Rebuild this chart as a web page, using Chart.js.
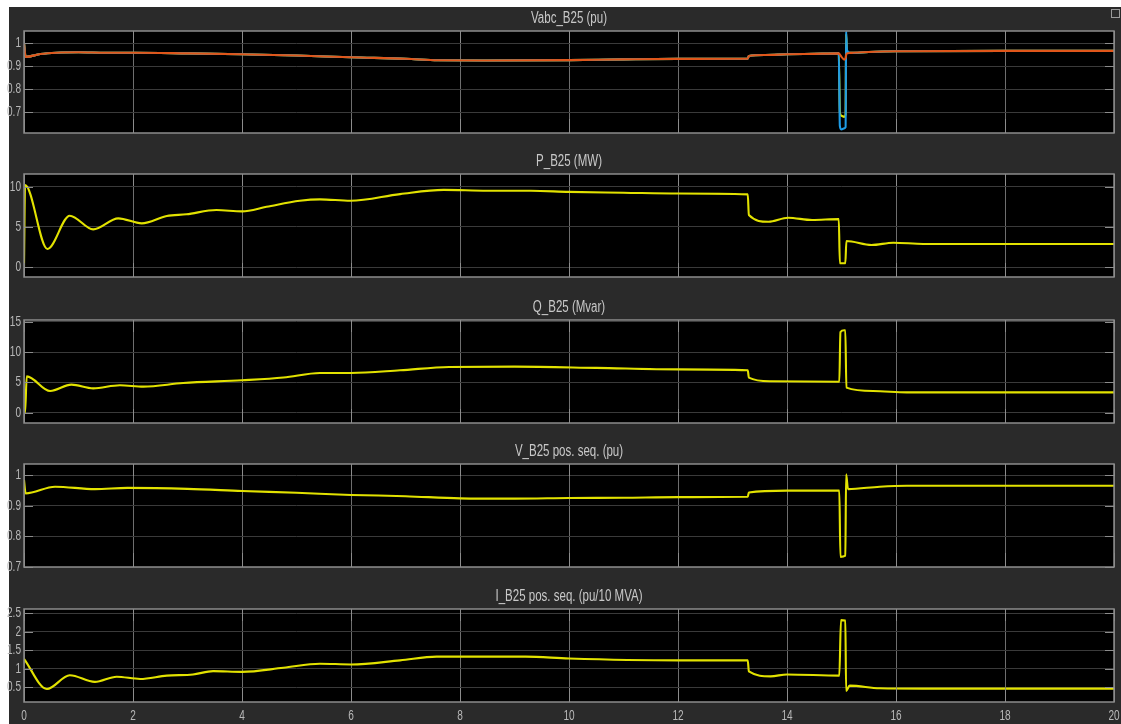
<!DOCTYPE html>
<html>
<head>
<meta charset="utf-8">
<script src="https://cdn.jsdelivr.net/npm/chart.js@4.4.1/dist/chart.umd.min.js"></script>
<style>
	body{margin:0;background:#fff;width:1121px;height:724px;overflow:hidden;position:relative}
	#fig{position:absolute;left:9px;top:7px;right:0;bottom:0;background:#2a2a2a}
	.pnl{position:absolute;left:0;width:1121px}
	#dock{position:absolute;left:1111px;top:9px;width:7px;height:7px;border:1px solid #9a9a9a}
</style>
</head>
<body>
<div id="fig"></div>
<div id="dock"></div>
<div class="pnl" style="top:5px;height:136px"><canvas id="cVabc"></canvas></div>
<div class="pnl" style="top:148px;height:137px"><canvas id="cP"></canvas></div>
<div class="pnl" style="top:294px;height:137px"><canvas id="cQ"></canvas></div>
<div class="pnl" style="top:438px;height:137px"><canvas id="cV"></canvas></div>
<div class="pnl" style="top:583px;height:141px"><canvas id="cI"></canvas></div>
<script>
// --- data (time in s) ---
const xTicks = [0, 2, 4, 6, 8, 10, 12, 14, 16, 18, 20];

const vabcT = [0, 0.03, 0.3, 0.6, 1.0, 1.5, 2, 3, 4, 5, 6, 7, 7.6, 8.5, 10, 11, 12, 13.28, 13.3, 13.6, 14, 14.5, 14.95, 14.97, 15.0, 15.05, 15.075, 15.085, 15.1, 15.15, 15.5, 16, 18, 20];
const vbVal = [1.0, 0.94, 0.952, 0.958, 0.96, 0.958, 0.958, 0.955, 0.951, 0.946, 0.938, 0.932, 0.925, 0.924, 0.926, 0.929, 0.931, 0.932, 0.944, 0.948, 0.951, 0.953, 0.955, 0.95, 0.94, 0.928, 0.935, 0.948, 0.955, 0.957, 0.961, 0.964, 0.966, 0.966];
const vaVal = [1.0, 0.94, 0.952, 0.958, 0.96, 0.958, 0.958, 0.955, 0.951, 0.946, 0.938, 0.932, 0.925, 0.924, 0.926, 0.929, 0.931, 0.932, 0.944, 0.948, 0.951, 0.953, 0.955, 0.64, 0.625, 0.63, 0.635, 1.05, 0.97, 0.957, 0.961, 0.964, 0.966, 0.966];
const vcVal = [1.0, 0.94, 0.952, 0.958, 0.96, 0.958, 0.958, 0.955, 0.951, 0.946, 0.938, 0.932, 0.925, 0.924, 0.926, 0.929, 0.931, 0.932, 0.944, 0.948, 0.951, 0.953, 0.955, 0.70, 0.685, 0.68, 0.69, 1.04, 0.96, 0.957, 0.961, 0.964, 0.966, 0.966];
const vabcTicks = [0.7, 0.8, 0.9, 1];

const pT = [0, 0.02, 0.43, 0.84, 1.27, 1.73, 2.16, 2.62, 2.98, 3.53, 4.0, 4.45, 5.06, 5.43, 5.99, 6.9, 7.7, 8.5, 9.3, 10, 11, 12, 13.28, 13.3, 13.66, 14.02, 14.46, 14.95, 14.97, 15.07, 15.09, 15.55, 15.95, 16.5, 18, 20];
const pVal = [0, 10.2, 2.27, 6.4, 4.7, 6.07, 5.45, 6.36, 6.57, 7.1, 6.94, 7.5, 8.25, 8.43, 8.25, 9.08, 9.6, 9.5, 9.5, 9.35, 9.25, 9.15, 9.04, 6.48, 5.65, 6.15, 5.86, 5.98, 0.5, 0.5, 3.26, 2.76, 3.05, 2.9, 2.9, 2.9];
const pTicks = [0, 5, 10];

const qT = [0, 0.02, 0.05, 0.48, 0.87, 1.27, 1.76, 2.19, 2.92, 4.0, 4.76, 5.43, 6.0, 6.9, 7.8, 9, 10.5, 12, 13.28, 13.3, 13.7, 14.96, 14.98, 15.05, 15.07, 15.09, 15.58, 16.2, 18, 20];
const qVal = [0, 0, 6.0, 3.58, 4.63, 4.02, 4.52, 4.3, 4.9, 5.35, 5.8, 6.56, 6.56, 7.0, 7.55, 7.6, 7.4, 7.15, 7.0, 5.8, 5.18, 5.1, 13.3, 13.6, 13.6, 4.14, 3.58, 3.36, 3.35, 3.35];
const qTicks = [0, 5, 10, 15];

const vT = [0, 0.03, 0.57, 1.3, 1.9, 3, 4, 5, 6, 7, 8, 9, 10, 11, 12, 13.28, 13.3, 14, 14.96, 14.98, 15.07, 15.085, 15.12, 15.7, 16.2, 18, 20];
const vVal = [0.984, 0.94, 0.962, 0.954, 0.958, 0.955, 0.948, 0.942, 0.935, 0.931, 0.924, 0.923, 0.925, 0.926, 0.928, 0.929, 0.943, 0.949, 0.949, 0.733, 0.737, 1.002, 0.954, 0.962, 0.965, 0.965, 0.965];
const vTicks = [0.7, 0.8, 0.9, 1];

const iT = [0, 0.42, 0.84, 1.3, 1.7, 2.13, 2.62, 3.1, 3.47, 4.0, 4.76, 5.43, 6.0, 6.9, 7.57, 9.2, 10, 12, 13.28, 13.3, 13.7, 14.0, 14.96, 14.99, 15.07, 15.085, 15.15, 15.7, 16.5, 18, 20];
const iVal = [1.27, 0.46, 0.83, 0.65, 0.79, 0.73, 0.82, 0.85, 0.94, 0.92, 1.03, 1.14, 1.12, 1.23, 1.33, 1.33, 1.28, 1.23, 1.23, 0.93, 0.80, 0.85, 0.82, 2.31, 2.3, 0.41, 0.55, 0.48, 0.47, 0.47, 0.47];
const iTicks = [0.5, 1, 1.5, 2, 2.5];

(function(){
	const FONT = "'Liberation Sans', Arial, sans-serif";
	const YELLOW = '#e2e200';
	const SQUEEZE = 0.72;   // scope text is tall and narrow

	function pts(t, v){ return t.map((x, i) => ({ x: x, y: v[i] })); }
	function line(t, v, color){ return { data: pts(t, v), borderColor: color, borderWidth: 2.1, pointRadius: 0, fill: false }; }

	function narrowText(ctx, text, x, y, align){
		ctx.save();
		ctx.translate(x, y);
		ctx.scale(SQUEEZE, 1);
		ctx.textAlign = align;
		ctx.textBaseline = 'middle';
		ctx.fillText(text, 0, 0);
		ctx.restore();
	}

	// --- black plot area, inner ticks, frame, labels and title, scope style ---
	const scopePlugin = {
		id: 'scopeTitle',
		beforeDraw(chart){
			const a = chart.chartArea, ctx = chart.ctx;
			ctx.save();
			ctx.fillStyle = '#000';
			ctx.fillRect(a.left, a.top, a.right - a.left, a.bottom - a.top);
			ctx.restore();
		},
		afterDraw(chart, args, opts){
			const a = chart.chartArea, ctx = chart.ctx, sx = chart.scales.x, sy = chart.scales.y;
			ctx.save();
			ctx.strokeStyle = '#8c8c8c';
			ctx.lineWidth = 1;
			sy.ticks.forEach(t => {
				const y = Math.round(sy.getPixelForValue(t.value)) + 0.5;
				ctx.beginPath();
				ctx.moveTo(a.left, y); ctx.lineTo(a.left + 9, y);
				ctx.moveTo(a.right - 9, y); ctx.lineTo(a.right, y);
				ctx.stroke();
			});
			sx.ticks.forEach(t => {
				const x = Math.round(sx.getPixelForValue(t.value)) + 0.5;
				ctx.beginPath();
				ctx.moveTo(x, a.top); ctx.lineTo(x, a.top + 12);
				ctx.moveTo(x, a.bottom - 14); ctx.lineTo(x, a.bottom);
				ctx.stroke();
			});
			ctx.lineWidth = 1.5;
			ctx.strokeRect(a.left, a.top, a.right - a.left, a.bottom - a.top);

			// tick labels
			ctx.fillStyle = '#b8b8b8';
			ctx.font = '14px ' + FONT;
			sy.ticks.forEach(t => narrowText(ctx, String(t.value), a.left - 3, sy.getPixelForValue(t.value), 'right'));
			if (opts.showX) {
				sx.ticks.forEach(t => narrowText(ctx, String(t.value), sx.getPixelForValue(t.value), a.bottom + 14, 'center'));
			}

			// title
			ctx.fillStyle = '#c8c8c8';
			ctx.font = '16px ' + FONT;
			narrowText(ctx, opts.text, (a.left + a.right) / 2, a.top - 12, 'center');
			ctx.restore();
		}
	};

	function makePanel(id, title, datasets, yMin, yMax, yTicks, showX){
		const canvas = document.getElementById(id);
		return new Chart(canvas, {
			type: 'line',
			data: { datasets: datasets },
			options: {
				responsive: true,
				maintainAspectRatio: false,
				animation: false,
				events: [],
				layout: { autoPadding: false, padding: { top: 26, right: 7, left: 0, bottom: showX ? 0 : 8 } },
				elements: { line: { cubicInterpolationMode: 'monotone' } },
				plugins: {
					legend: { display: false },
					tooltip: { enabled: false },
					scopeTitle: { text: title, showX: showX }
				},
				scales: {
					x: {
						type: 'linear', min: 0, max: 20,
						afterBuildTicks: s => { s.ticks = xTicks.map(v => ({ value: v })); },
						afterFit: s => { s.height = showX ? 22 : 0; s.paddingLeft = 0; s.paddingRight = 0; },
						grid: { color: '#6e6e6e', drawTicks: false },
						border: { display: false },
						ticks: { display: false }
					},
					y: {
						min: yMin, max: yMax,
						afterBuildTicks: s => { s.ticks = yTicks.map(v => ({ value: v })); },
						afterFit: s => { s.width = 24; s.paddingTop = 0; s.paddingBottom = 0; },
						grid: { color: '#3a3a3a', drawTicks: false },
						border: { display: false },
						ticks: { display: false }
					}
				}
			},
			plugins: [scopePlugin]
		});
	}

	// first dataset is drawn on top
	makePanel('cVabc', 'Vabc_B25 (pu)', [
		line(vabcT, vbVal, '#e0561a'),
		line(vabcT, vaVal, '#1e9ce6'),
		line(vabcT, vcVal, YELLOW)
	], 0.61, 1.052, vabcTicks, false);
	makePanel('cP', 'P_B25 (MW)', [line(pT, pVal, YELLOW)], -1.2, 11.57, pTicks, false);
	makePanel('cQ', 'Q_B25 (Mvar)', [line(qT, qVal, YELLOW)], -1.7, 15.3, qTicks, false);
	makePanel('cV', 'V_B25 pos. seq. (pu)', [line(vT, vVal, YELLOW)], 0.7, 1.036, vTicks, false);
	makePanel('cI', 'I_B25 pos. seq. (pu/10 MVA)', [line(iT, iVal, YELLOW)], 0.11, 2.61, iTicks, true);
})();
</script>
</body>
</html>
